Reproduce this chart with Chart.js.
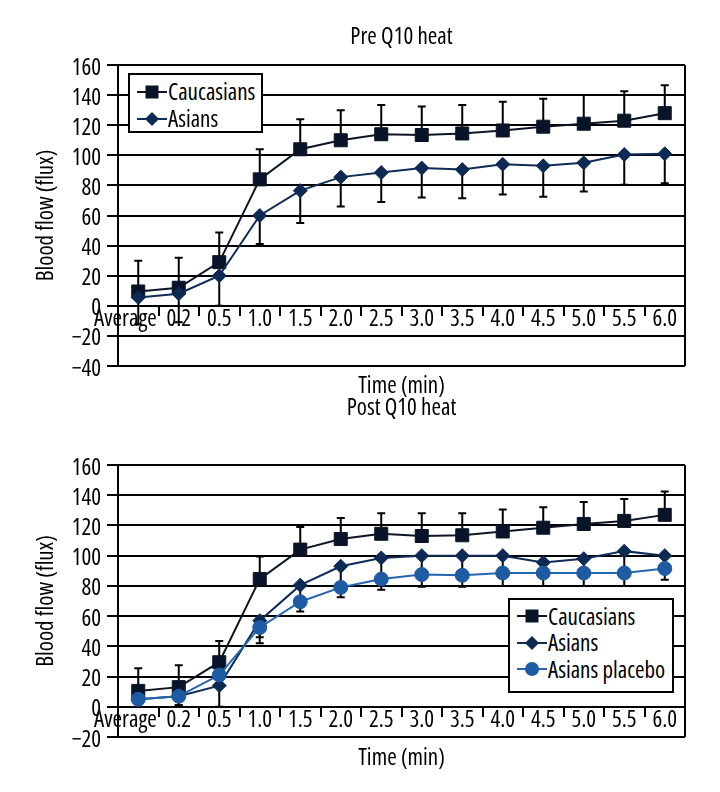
<!DOCTYPE html>
<html><head><meta charset="utf-8">
<script src="https://cdn.jsdelivr.net/npm/chart.js@4"></script>
<style>
body{margin:0;background:#fff;width:720px;height:792px;position:relative;overflow:hidden;}
.wrap{position:absolute;left:0;width:720px;}
.legend{position:absolute;background:#fff;border:2px solid #000;box-sizing:border-box;z-index:5;
  font-family:'Open Sans',sans-serif;font-stretch:condensed;font-size:23px;color:#000;line-height:1;}
.row{display:flex;align-items:center;white-space:nowrap;}
.row svg{flex:none;margin-right:1px;}
</style></head><body>
<div class="wrap" style="top:385px;height:407px"><canvas id="c2" width="720" height="407" style="width:720px;height:407px"></canvas></div>
<div class="wrap" style="top:0;height:400px"><canvas id="c1" width="720" height="400" style="width:720px;height:400px"></canvas></div>
<div class="legend" id="lg1" style="left:128px;top:73px;width:135px;height:60px;padding:3px 0 0 7px;"></div>
<div class="legend" id="lg2" style="left:508px;top:598px;width:166px;height:95px;padding:3px 0 0 7px;"></div>
<script>
const categories = ['Average','0.2','0.5','1.0','1.5','2.0','2.5','3.0','3.5','4.0','4.5','5.0','5.5','6.0'];
const seriesNames = ['Caucasians','Asians','Asians placebo'];
const yTicksPre = [-40,-20,0,20,40,60,80,100,120,140,160];
const yTicksPost = [-20,0,20,40,60,80,100,120,140,160];

// Pre Q10 heat
const cauPre   = [9.5, 12, 29, 84, 104, 110, 114, 113.5, 114.5, 116.5, 119, 121, 123, 128];
const cauPreSD = [20.5, 20, 19.7, 20, 20, 20, 19.5, 19, 19, 19, 18.5, 19, 19.5, 18.5];
const asiPre   = [5.5, 8, 20, 60, 76.5, 85.5, 88.5, 91.5, 90.5, 94, 93, 95, 100.5, 101];
const asiPreSD = [18, 19, 20, 19, 21.5, 19.5, 19.5, 19.5, 19, 20, 20.5, 19, 20, 19.5];

// Post Q10 heat
const cauPost    = [10.5, 13, 29.5, 84.5, 104, 111, 114.5, 113, 113.5, 116, 118.5, 121, 123, 127];
const cauPostSD  = [15, 14.5, 14, 15, 15, 14, 13.5, 15, 14.5, 14.5, 13.5, 14.5, 14.5, 15.5];
const asiPost    = [5, 7, 14, 57, 80.5, 93, 98.5, 100, 100, 100, 95.5, 98, 103, 100];
const asiPostSD  = [3, 6, 14, 11, 11, 14, 14, 12.5, 13, 11.5, 7, 9.5, 14, 9];
const placPost   = [5, 7, 21, 52.5, 69.5, 79, 84.5, 87.5, 87, 88.5, 88.5, 88.5, 88.5, 91.5];
const placPostSD = [3, 6, 8, 10.5, 6.5, 6.5, 7, 8, 7.5, 8.5, 8.5, 8.5, 8.5, 7.5];

const FAM = "'Open Sans', sans-serif";
const F = (size)=>({family:FAM, size, weight:'condensed'});
const STY = [
  {line:'#0c1526', fill:'#0a1428', style:'rect', r:9.2},
  {line:'#0e2c58', fill:'#0d2a55', style:'rectRot', r:7},
  {line:'#2565ad', fill:'#1d5ba2', style:'circle', r:7}
];

const errorBars = {
  id:'errorBars',
  beforeDatasetsDraw(chart, args, opts){
    const ctx = chart.ctx, ys = chart.scales.y;
    ctx.save(); ctx.strokeStyle = '#000'; ctx.lineWidth = 2;
    (opts.sets||[]).forEach(s=>{
      const meta = chart.getDatasetMeta(s.index);
      const vals = chart.data.datasets[s.index].data;
      meta.data.forEach((pt,j)=>{
        const y0 = ys.getPixelForValue(vals[j]);
        const y1 = ys.getPixelForValue(vals[j] + s.dir*s.sd[j]);
        ctx.beginPath();
        ctx.moveTo(pt.x, y0); ctx.lineTo(pt.x, y1);
        ctx.moveTo(pt.x-4, y1); ctx.lineTo(pt.x+4, y1);
        ctx.stroke();
      });
    });
    ctx.restore();
  }
};

function ds(i, data){
  const s = STY[i];
  return {label:seriesNames[i], data, borderColor:s.line, borderWidth:2, backgroundColor:s.fill,
    pointStyle:s.style, pointRadius:s.r, pointHoverRadius:s.r, pointBackgroundColor:s.fill,
    pointBorderColor:s.fill, pointBorderWidth:1, tension:0, fill:false, order:3-i};
}

function make(id, title, datasets, sets, yTicks, tPad, sPad){
  new Chart(document.getElementById(id), {
    type:'line',
    data:{labels:categories, datasets},
    plugins:[errorBars],
    options:{
      responsive:false, animation:false,
      layout:{padding:{left:0,right:35,top:0,bottom:0}},
      plugins:{
        legend:{display:false}, tooltip:{enabled:false},
        title:{display:true, text:title, color:'#000', fullSize:false, font:F(23), padding:tPad},
        subtitle:{display:true, position:'bottom', text:'Time (min)', color:'#000', fullSize:false, font:F(23), padding:sPad},
        errorBars:{sets}
      },
      scales:{
        x:{
          position:{y:0},
          offset:true,
          grid:{offset:true, drawOnChartArea:true, drawTicks:true, tickLength:9, lineWidth:2,
            color:(c)=> c.type==='scale' ? '#000' : 'rgba(0,0,0,0)', tickColor:'#000'},
          border:{display:true, color:'#000', width:2},
          ticks:{autoSkip:false, maxRotation:0, minRotation:0, color:'#000', padding:-9, font:F(23),
            callback:(v,i)=> i===0 ? categories[0] + '      ' : categories[i]}
        },
        y:{
          min:yTicks[0], max:yTicks[yTicks.length-1],
          afterFit:(s)=>{ s.width = 118; },
          afterBuildTicks:(s)=>{ s.ticks = yTicks.map(v=>({value:v})); },
          grid:{color:'#000', lineWidth:2, tickLength:11, drawTicks:true, tickColor:'#000'},
          border:{display:true, color:'#000', width:2},
          ticks:{autoSkip:false, color:'#000', padding:6, labelOffset:3, font:F(23),
            callback:(v)=> v<0 ? '\u2212'+Math.abs(v) : String(v)},
          title:{display:true, text:'Blood flow (flux)', color:'#000', font:F(23), padding:{top:33,bottom:0}}
        }
      }
    }
  });
}

make('c1','Pre Q10 heat',[ds(0,cauPre), ds(1,asiPre)],
  [{index:0, sd:cauPreSD, dir:1},{index:1, sd:asiPreSD, dir:-1}], yTicksPre,
  {top:24,bottom:13.4},{top:6.2,bottom:0.2});
make('c2','Post Q10 heat',[ds(0,cauPost), ds(1,asiPost), ds(2,placPost)],
  [{index:0, sd:cauPostSD, dir:1},{index:1, sd:asiPostSD, dir:-1},{index:2, sd:placPostSD, dir:-1}], yTicksPost,
  {top:9.2,bottom:43.2},{top:7.2,bottom:20.2});

function symbol(i){
  const s = STY[i];
  let m;
  if (s.style==='rect') m = `<rect x="8.5" y="3.5" width="13" height="13" fill="${s.fill}"/>`;
  else if (s.style==='rectRot') m = `<polygon points="15,3 22,10 15,17 8,10" fill="${s.fill}"/>`;
  else m = `<circle cx="15" cy="10" r="7" fill="${s.fill}"/>`;
  return `<svg width="30" height="20"><line x1="0" y1="10" x2="30" y2="10" stroke="${s.line}" stroke-width="2"/>${m}</svg>`;
}
function legend(id, n, rowH){
  document.getElementById(id).innerHTML = seriesNames.slice(0,n)
    .map((name,i)=>`<div class="row" style="height:${rowH}px">${symbol(i)}<span>${name}</span></div>`).join('');
}
legend('lg1',2,27);
legend('lg2',3,26.5);
</script>
</body></html>
